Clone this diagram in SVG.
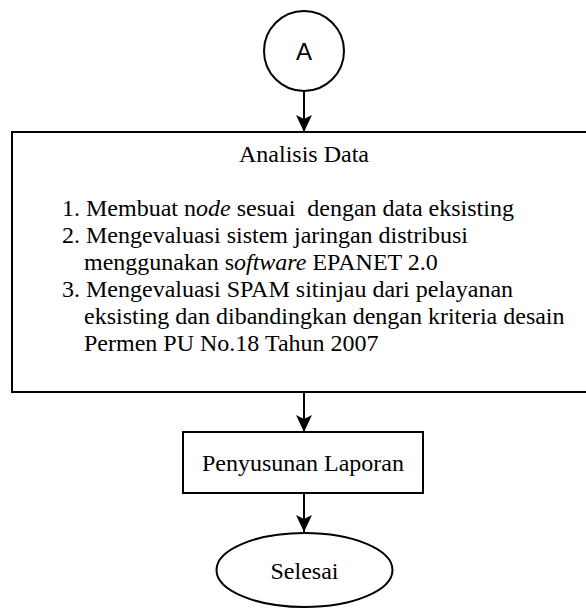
<svg xmlns="http://www.w3.org/2000/svg" width="586" height="608" viewBox="0 0 586 608">
<defs>
<style>
.shape{fill:#fff;stroke:#000;stroke-width:2}
.conn{stroke:#000;stroke-width:2;fill:none}
.sans{font-family:"Liberation Sans",Arial,sans-serif;font-size:24px;fill:#000}
.it{font-style:italic}
</style>
<marker id="arr" viewBox="0 0 17 16" refX="17" refY="8" markerWidth="17" markerHeight="16" markerUnits="userSpaceOnUse" orient="auto">
<path d="M0,0 L17,8 L0,16 L4,8 z" fill="#000"/>
</marker>
</defs>
<g id="connectors">
<line class="conn" x1="304" y1="91" x2="304" y2="132" marker-end="url(#arr)"/>
<line class="conn" x1="304" y1="392" x2="304" y2="432" marker-end="url(#arr)"/>
<line class="conn" x1="304" y1="493" x2="304" y2="532" marker-end="url(#arr)"/>
</g>
<g id="node-a">
<circle class="shape" cx="304" cy="51" r="40"/>
<text class="sans" x="304" y="60" text-anchor="middle">A</text>
</g>
<g font-family="Liberation Serif, Times New Roman, serif" font-size="24" fill="#000">
<g id="node-analisis">
<rect class="shape" x="12" y="132" width="584" height="260"/>
<text x="304" y="162" text-anchor="middle">Analisis Data</text>
<text style="white-space:pre" x="62" y="216">1. Membuat n<tspan class="it">ode</tspan> sesuai  dengan data eksisting</text>
<text x="62" y="243">2. Mengevaluasi sistem jaringan distribusi</text>
<text x="84" y="270">menggunakan s<tspan class="it">oftware</tspan> EPANET 2.0</text>
<text x="62" y="297">3. Mengevaluasi SPAM sitinjau dari pelayanan</text>
<text x="84" y="324">eksisting dan dibandingkan dengan kriteria desain</text>
<text x="84" y="351">Permen PU No.18 Tahun 2007</text>
</g>
<g id="node-laporan">
<rect class="shape" x="183" y="432" width="240" height="61"/>
<text x="303" y="471" text-anchor="middle">Penyusunan Laporan</text>
</g>
<g id="node-selesai">
<ellipse class="shape" cx="304.5" cy="570" rx="88" ry="37"/>
<text x="304.5" y="579" text-anchor="middle">Selesai</text>
</g>
</g>
</svg>
